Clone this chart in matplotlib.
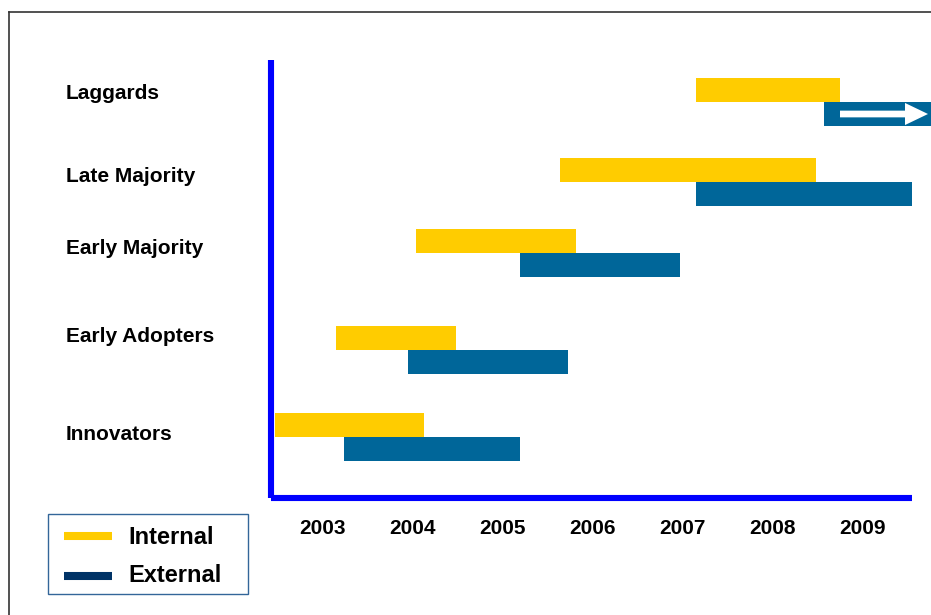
import matplotlib
matplotlib.use('Agg')
import matplotlib.pyplot as plt
from matplotlib.lines import Line2D
from matplotlib.patches import Rectangle, FancyArrow

# adoption stages, bottom to top
STAGES = ['Innovators', 'Early Adopters', 'Early Majority', 'Late Majority', 'Laggards']
# start / end of each phase (in years)
INTERNAL_START = [2002.98, 2003.66, 2004.54, 2006.14, 2007.66]
INTERNAL_END = [2004.63, 2004.99, 2006.32, 2008.99, 2009.26]
EXTERNAL_START = [2003.74, 2004.46, 2005.70, 2007.66, 2009.08]
EXTERNAL_END = [2005.70, 2006.23, 2007.48, 2010.06, 2010.30]
YEARS = [2003, 2004, 2005, 2006, 2007, 2008, 2009]

# layout (row boundary heights, in bar-height units above the x axis)
ROW_POS = [2.54, 6.17, 10.21, 13.17, 16.5]
LABEL_NUDGE = [0.12, 0.54, 0.17, 0.22, 0.34]

YELLOW = '#FFCC00'
BLUE = '#006699'
NAVY = '#003366'
AXIS_BLUE = '#0000FF'

W, H = 931, 615
plt.rcParams['font.family'] = ['Liberation Sans', 'DejaVu Sans']
plt.rcParams['font.weight'] = 'bold'

fig = plt.figure(figsize=(W / 100, H / 100), dpi=100)


def fx(px):
    return px / W


def fy(py):
    return 1 - py / H


ax = fig.add_axes([fx(271), fy(498), fx(931) - fx(271), fy(60) - fy(498)])
ax.set_xlim(2003 + (271 - 277) / 90, 2003 + (931 - 277) / 90)
ax.set_ylim(0, (498 - 60) / 24)
for s in ax.spines.values():
    s.set_visible(False)

for i, stage in enumerate(STAGES):
    y = ROW_POS[i]
    ax.barh(y + 0.5, INTERNAL_END[i] - INTERNAL_START[i], left=INTERNAL_START[i],
            height=1, color=YELLOW, linewidth=0, clip_on=False)
    ax.barh(y - 0.5, EXTERNAL_END[i] - EXTERNAL_START[i], left=EXTERNAL_START[i],
            height=1, color=BLUE, linewidth=0, clip_on=False)

# row labels at the figure's left margin
for i, stage in enumerate(STAGES):
    yd = ROW_POS[i] + LABEL_NUDGE[i]
    yfig = fig.transFigure.inverted().transform(ax.transData.transform((2005, yd)))[1]
    fig.text(fx(66), yfig, stage, fontsize=15, fontweight='bold', va='center', ha='left')

# white arrow inside the last external bar
xa = 2003 + (840 - 277) / 90
ax.add_patch(FancyArrow(xa, ROW_POS[-1] - 0.5, (928 - 840) / 90, 0, width=0.28,
                        head_width=0.92, head_length=23 / 90, length_includes_head=True,
                        color='white', linewidth=0, clip_on=False))

# axes lines
x0, x1 = ax.get_xlim()
ax.plot([x0, x0], [0, ax.get_ylim()[1]], color=AXIS_BLUE, lw=4.4, clip_on=False,
        solid_capstyle='butt')
ax.plot([x0, 2003 + (912 - 277) / 90], [0, 0], color=AXIS_BLUE, lw=4.4, clip_on=False,
        solid_capstyle='butt')

ax.set_yticks([])
ax.set_xticks([yr + 0.5 for yr in YEARS])
ax.set_xticklabels([str(yr) for yr in YEARS], fontsize=15, fontweight='bold')
ax.tick_params(axis='x', length=0, pad=15)

# outer frame
fig.add_artist(Line2D([fx(9), fx(9)], [fy(12), 0], color='#333333', lw=1.2))
fig.add_artist(Line2D([fx(9), 1], [fy(12), fy(12)], color='#333333', lw=1.2))

# legend box
fig.add_artist(Rectangle((fx(48), fy(594)), fx(248) - fx(48), fy(514) - fy(594),
                         transform=fig.transFigure, facecolor='white',
                         edgecolor='#336699', lw=1.0))
fig.add_artist(Line2D([fx(64), fx(112)], [fy(536), fy(536)], color=YELLOW, lw=5.8,
                      solid_capstyle='butt'))
fig.add_artist(Line2D([fx(64), fx(112)], [fy(576), fy(576)], color=NAVY, lw=5.8,
                      solid_capstyle='butt'))
fig.text(fx(128), fy(537), 'Internal', fontsize=17, fontweight='bold', va='center')
fig.text(fx(128), fy(576), 'External', fontsize=17, fontweight='bold', va='center')

fig.savefig('out.png', dpi=100)
